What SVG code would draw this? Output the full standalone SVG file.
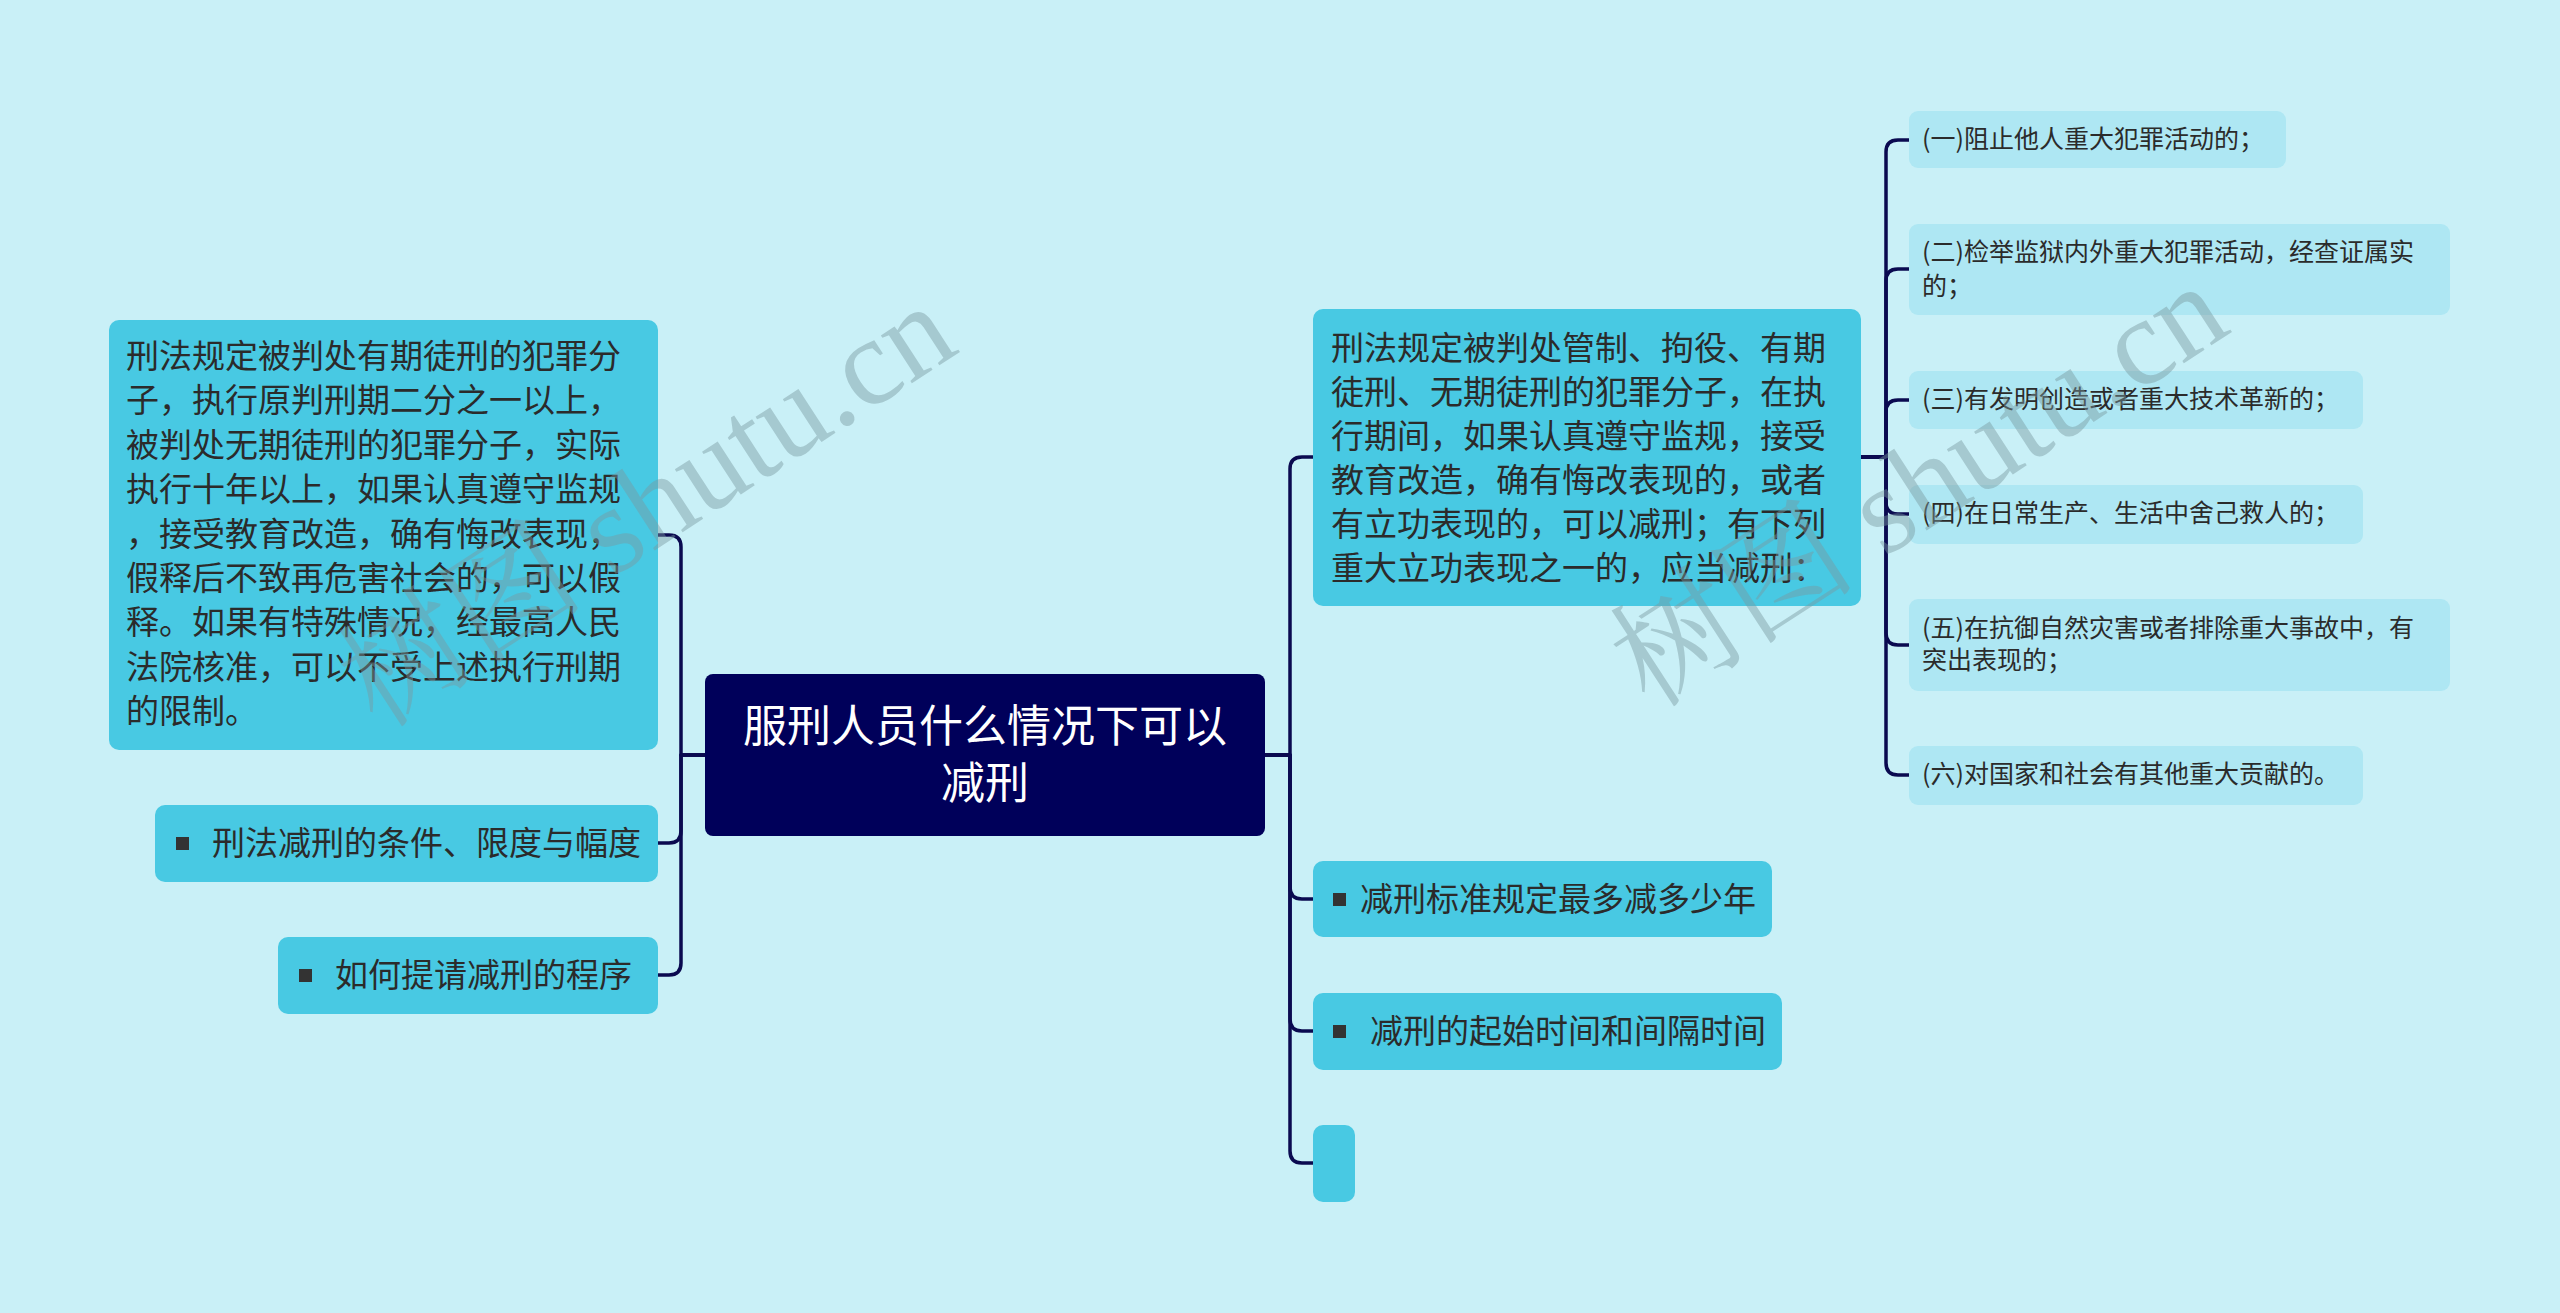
<svg xmlns="http://www.w3.org/2000/svg" width="2560" height="1313" viewBox="0 0 2560 1313">
<defs>
<style>
.bg{fill:#c9f0f7}
.main{fill:#48c9e3}
.sub{fill:#aee7f3}
.root{fill:#00005a}
.t{font-family:"Noto Sans CJK SC","Noto Sans",sans-serif;fill:#2b2b2b}
.t33{font-size:33px}
.t24{font-size:25px}
.rt{font-family:"Noto Sans CJK SC","Noto Sans",sans-serif;font-size:44px;fill:#ffffff;text-anchor:middle}
.bul{fill:#333333}
.con{fill:none;stroke:#0a0a50;stroke-width:3.5;stroke-linecap:round;stroke-linejoin:round}
.wm{font-family:"Liberation Serif","Noto Serif CJK SC","Noto Sans CJK SC",serif;font-size:124px;fill:#7a9aa0;fill-opacity:0.45}
</style>
</defs>
<rect class="bg" x="0" y="0" width="2560" height="1313"/>

<g id="connectors">
<path class="con" d="M705 755 H681 V547 Q681 535 669 535 H658"/>
<path class="con" d="M705 755 H681 V831 Q681 843 669 843 H658"/>
<path class="con" d="M705 755 H681 V963 Q681 975 669 975 H658"/>
<path class="con" d="M1265 755 H1290 V469 Q1290 457 1302 457 H1313"/>
<path class="con" d="M1265 755 H1290 V887 Q1290 899 1302 899 H1313"/>
<path class="con" d="M1265 755 H1290 V1019 Q1290 1031 1302 1031 H1313"/>
<path class="con" d="M1265 755 H1290 V1151 Q1290 1163 1302 1163 H1313"/>
<path class="con" d="M1861 457 H1886 V152 Q1886 140 1898 140 H1909"/>
<path class="con" d="M1861 457 H1886 V281 Q1886 269 1898 269 H1909"/>
<path class="con" d="M1861 457 H1886 V412 Q1886 400 1898 400 H1909"/>
<path class="con" d="M1861 457 H1886 V502 Q1886 514 1898 514 H1909"/>
<path class="con" d="M1861 457 H1886 V633 Q1886 645 1898 645 H1909"/>
<path class="con" d="M1861 457 H1886 V763 Q1886 775 1898 775 H1909"/>
</g>

<g id="root">
<rect class="root" x="705" y="674" width="560" height="162" rx="8"/>
<text class="rt" x="985" y="742">服刑人员什么情况下可以</text>
<text class="rt" x="985" y="799">减刑</text>
</g>

<g id="left1">
<rect class="main" x="109" y="320" width="549" height="430" rx="10"/>
<text class="t t33" x="126" y="368">刑法规定被判处有期徒刑的犯罪分</text>
<text class="t t33" x="126" y="412">子，执行原判刑期二分之一以上，</text>
<text class="t t33" x="126" y="457">被判处无期徒刑的犯罪分子，实际</text>
<text class="t t33" x="126" y="501">执行十年以上，如果认真遵守监规</text>
<text class="t t33" x="126" y="546">，接受教育改造，确有悔改表现，</text>
<text class="t t33" x="126" y="590">假释后不致再危害社会的，可以假</text>
<text class="t t33" x="126" y="634">释。如果有特殊情况，经最高人民</text>
<text class="t t33" x="126" y="679">法院核准，可以不受上述执行刑期</text>
<text class="t t33" x="126" y="723">的限制。</text>
</g>

<g id="left2">
<rect class="main" x="155" y="805" width="503" height="77" rx="10"/>
<rect class="bul" x="176" y="837" width="13" height="13"/>
<text class="t t33" x="212" y="855">刑法减刑的条件、限度与幅度</text>
</g>

<g id="left3">
<rect class="main" x="278" y="937" width="380" height="77" rx="10"/>
<rect class="bul" x="299" y="969" width="13" height="13"/>
<text class="t t33" x="335" y="987">如何提请减刑的程序</text>
</g>

<g id="right1">
<rect class="main" x="1313" y="309" width="548" height="297" rx="10"/>
<text class="t t33" x="1331" y="360">刑法规定被判处管制、拘役、有期</text>
<text class="t t33" x="1331" y="404">徒刑、无期徒刑的犯罪分子，在执</text>
<text class="t t33" x="1331" y="448">行期间，如果认真遵守监规，接受</text>
<text class="t t33" x="1331" y="492">教育改造，确有悔改表现的，或者</text>
<text class="t t33" x="1331" y="536">有立功表现的，可以减刑；有下列</text>
<text class="t t33" x="1331" y="580">重大立功表现之一的，应当减刑：</text>
</g>

<g id="right2">
<rect class="main" x="1313" y="861" width="459" height="76" rx="10"/>
<rect class="bul" x="1333" y="893" width="13" height="13"/>
<text class="t t33" x="1360" y="911">减刑标准规定最多减多少年</text>
</g>

<g id="right3">
<rect class="main" x="1313" y="993" width="469" height="77" rx="10"/>
<rect class="bul" x="1333" y="1025" width="13" height="13"/>
<text class="t t33" x="1370" y="1043">减刑的起始时间和间隔时间</text>
</g>

<g id="right4">
<rect class="main" x="1313" y="1125" width="42" height="77" rx="10"/>
</g>

<g id="sub1">
<rect class="sub" x="1909" y="111" width="377" height="57" rx="9"/>
<text class="t t24" x="1922" y="148">(一)阻止他人重大犯罪活动的；</text>
</g>
<g id="sub2">
<rect class="sub" x="1909" y="224" width="541" height="91" rx="9"/>
<text class="t t24" x="1922" y="261">(二)检举监狱内外重大犯罪活动，经查证属实</text>
<text class="t t24" x="1922" y="295">的；</text>
</g>
<g id="sub3">
<rect class="sub" x="1909" y="371" width="454" height="58" rx="9"/>
<text class="t t24" x="1922" y="408">(三)有发明创造或者重大技术革新的；</text>
</g>
<g id="sub4">
<rect class="sub" x="1909" y="485" width="454" height="59" rx="9"/>
<text class="t t24" x="1922" y="522">(四)在日常生产、生活中舍己救人的；</text>
</g>
<g id="sub5">
<rect class="sub" x="1909" y="599" width="541" height="92" rx="9"/>
<text class="t t24" x="1922" y="637">(五)在抗御自然灾害或者排除重大事故中，有</text>
<text class="t t24" x="1922" y="669">突出表现的；</text>
</g>
<g id="sub6">
<rect class="sub" x="1909" y="746" width="454" height="59" rx="9"/>
<text class="t t24" x="1922" y="783">(六)对国家和社会有其他重大贡献的。</text>
</g>

<g id="watermark">
<text class="wm" transform="translate(378 730) rotate(-33)">树图 shutu.cn</text>
<text class="wm" transform="translate(1650 710) rotate(-33)">树图 shutu.cn</text>
</g>
</svg>
